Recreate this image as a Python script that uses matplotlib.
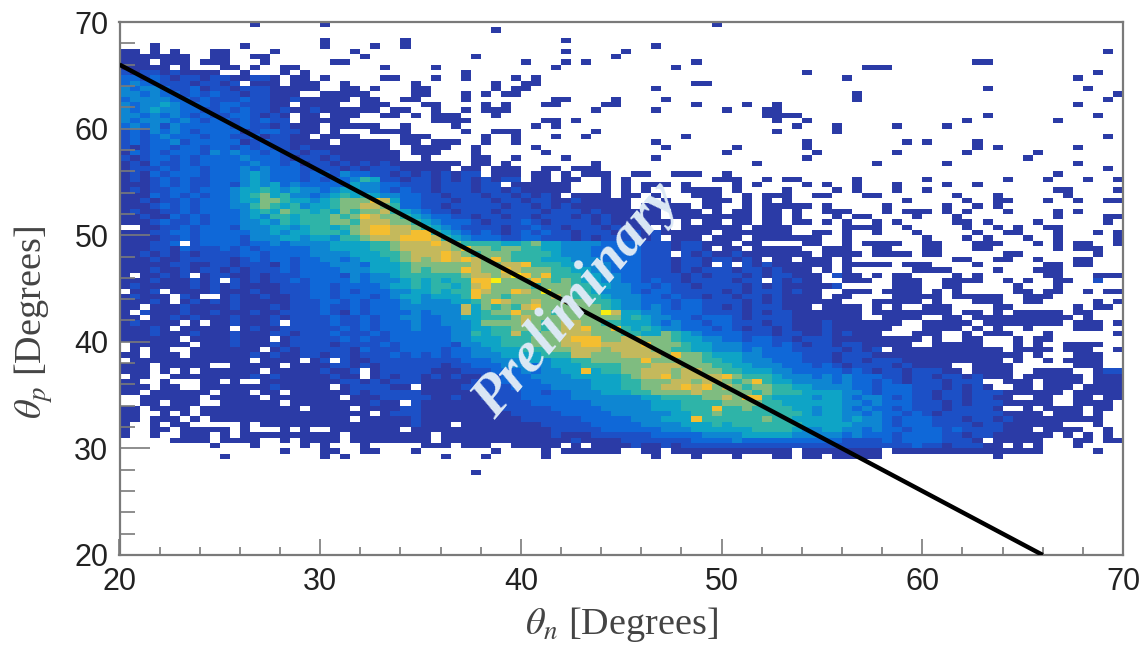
import matplotlib
matplotlib.use("Agg")
import matplotlib.pyplot as plt
import numpy as np
from matplotlib.colors import ListedColormap

# bin edges of the histogram (0.5 degree bins on both axes)
x_edges = [20 + 0.5 * i for i in range(101)]
y_edges = [70 - 0.5 * i for i in range(101)]

# colour level per bin, row 0 is the top row (theta_p = 70)
# . = empty, 1 = dark navy ... 9 = orange, a = bright yellow
rows = [
    ".......... ...1...... 1......... .......... .......... .........1 .......... .......... .......... ..........",
    ".......... .......... .......... .......1.. .......... .......... .......... .......... .......... ..........",
    ".......... .......... .......... .......... .......... .......... .......... .......... .......... ..........",
    ".......... .......... 1.......1. .......... ....1..... .......... .......... .......... .......... ..........",
    "...1...... ..1....... 1....1..1. .......... .......... ...1...... .......... .......... .......... ..........",
    "11.1.1...1 1....1.... ...1...... .......... ....1..... 1......... .......... .......... .......... ........1.",
    "1111111..1 1..11..... ....1..... .....1.... .........1 .......... .......... .......... .......... ..........",
    "111.111.11 1...1..... .11....... .......... 1...1.1... .......1.. .......... .......... .....11... ..........",
    "11111.1... 11.1..11.. ......1... .1........ ...1...... .....1.... .......... ....111... .......... ..........",
    "2122121111 ..1...1.1. .......... ....1..... .......... .......... ........1. .......... .......... .......1..",
    "3323212212 211221.11. 1.....11.. .1..1....1 .1........ .......... .......... ..1....... .......... .....1....",
    "3433222122 12.111.111 ..1......1 .......1.. 11........ .......11. .......... .......... .......... ..........",
    "4344322312 2122211111 ..11.1...1 1......1.1 1......... ...1...... .......... .......... ......1... ......1...",
    "4434332323 22122111.. 11111....1 1...1.1.11 .......... .......... .......... ...1...... .......... .........1",
    "3444433232 2232211211 111.11..11 ....1..... ...11....1 ....1..... .......... ...1...... .......... ........1.",
    "4344543332 3322211.11 11..111... 11....1.1. ..11....11 .......1.. ..1..1.... .......... .......... .....1....",
    "4345443322 3232212112 111111.11. .1..1.111. .......1.. ...1...... 1...11.... .......... .......... ..........",
    "4434343232 2332121.11 .111..11.1 .111...1.. .......... .......... ....1111.. .......... ......1... .......1..",
    "4344434323 3232322.11 111....... .1111..... ..11.1.... .......... .....1..1. .......... ....1..... ...1......",
    "3434243333 3232212111 .11111..1. ...1...... .1.1...... .......... .......1.. .1.....1.. ..1....... ..........",
    "2324343233 3312332211 .1...1111. ....1..111 .......1.. .......... .....1.... .1........ .......... ..........",
    "2323433323 322312211. 1111....11 1.....1..1 ...1..1... ......1... .......... .......... .......... ........1.",
    "2323342333 3312322111 1.11111.11 .111..1..1 .......... ...1...... ........1. ........1. 1....1.... ..........",
    "2123323323 3232322121 1111111..1 111..1.... .1........ ....1..... .1......1. .......... .....1.1.. .....1....",
    "1323233324 3433232212 21111111.1 11...1.... ..1....... .......... 1........1 .......1.. ....1..... .1........",
    "2123323233 3343332122 12111111.. 1....11..1 ....1..... ...1...... ........1. .......... .......... 1.........",
    "1213223233 3334332312 2121212111 1111.11.1. .......1.. .......... ...1...... .....1.... ..1....... .....1....",
    "1222323323 3343433322 2212122211 111.11.111 ..11.111.. .......... .......... .......... .......... ........1.",
    "1213233323 3345433323 3243322121 212122.111 .11.1.111. .11..111.. 1......... .......... .......... ...1......",
    "1212323223 3345433323 2334652212 2121212122 .11.11..1. 1........1 11..1.11.. ...1...... 1.......1. ..1...1..1",
    "1112323223 3245453433 3335443322 21222122.1 11111...1. 1.111.1... .1.1....1. 1..1...1.. ..1..1.... ..........",
    "1212233233 3455654544 3455443232 2122212212 11111...1. 1.1...1111 .1....1... .1.1...1.. 1......... ...11....1",
    "1113232323 3456756443 4565654433 2212221221 2121.1111. 11.1...111 ..1.111..1 1...11.... ...1...1.. ....1.....",
    "1121223233 3455776554 5677798533 2221222122 1221121111 1...1...11 1.1.1.1... ........1. ....1..11. ..1..1..11",
    "1112323233 3446765645 5677887633 2212222212 2121211111 1.11111.11 ..1.11111. 1.....1... ..1..1.1.. ..........",
    "1211223233 3345657665 6576778654 3221222122 2212221211 1111.111.1 .11.11.1.. 111...1.11 1.1.1...1. ...1.1....",
    "1121132323 3345466566 6767987765 4332212212 2122212121 1111.11111 111.11.1.. .1.11....1 ...1...... ...1....11",
    "1112322323 3344546566 6776888776 5433321222 3212222121 11111.1.11 .11.11.11. 1.1..1.1.. ...11.1... .1......1.",
    "..11223233 3244455456 6567899887 6543222212 2322122212 111.1.1111 11.1111... ..1111..1. ....1..1.1 ..11......",
    "1112233233 3334454556 6657899889 9654323212 3232212221 221211111. 1111111..1 1.1..1...1 .....1..11 ...1...1.1",
    "1111223233 3324445545 5466788899 9865433322 3322212122 2212.111.1 11.1111111 ..1....... 1...1.1... 1..1.....1",
    "111223.233 3323343444 4555566788 8987666655 6755444433 3322212211 1.11....11 ..1.1111.. 11...111.. .1.1.11..1",
    "1112213222 3232333334 4555566788 8887977677 6655444333 332221221. 11.11111.. 111..11... 11...11... ...1.111..",
    "1121212122 2233233334 4445556678 8898767776 6665444333 33222.2121 121111111. 1111.1111. 11......11 .......1..",
    "1112112222 2123233233 4434555678 7898987976 6655544433 3322212212 2121.11.11 1.1....... ...11..11. .1...11...",
    "1111122112 2122213233 3444355567 7777787788 9666554443 332221221. 2.21211111 1.11111.11 1....1.... ..11.11...",
    "1112112122 1212223233 3344455567 6777987798 7776655443 3322212122 212212111. 1.1......1 111....1.. .111......",
    "1.11212.12 2112122233 3324344566 666678878a 9796665544 3322221212 2212122111 .211.1.11. ...1.1.... ..11...111",
    "1112111212 .212122323 3334344456 5656699a77 7976765544 3323221222 2122.21211 ..111..111 ..1111..1. 1..11..2..",
    "1211111212 1211112223 3233334556 5665689777 7677766554 4332322122 2212121111 12.....111 ..11.....1 ...1......",
    ".112.11112 1112112223 3232333445 5656698779 87a7766544 4323322222 1212221211 ..111.1111 .1.1.....1 1.11..1.11",
    "12111.21.. 1211211223 3233323455 4555697767 7778766654 4433232212 2122121111 .11....111 11.11111.. 111.......",
    "11121.1212 1211111222 3323233345 4445567987 7877877665 4433323322 2212121111 11...11111 .1...111.. 11.....1.1",
    "11.1112111 1211121222 3223233344 4444857676 8977777765 4434323322 121222111. 1111.1.1.. 111....11. .....1.11.",
    "1.21112112 1112112222 3213233334 3444856779 77767777a8 5544333322 2212122111 1111.11111 111.11.1.1 1111.11...",
    "11.1121211 1211121222 2322323344 3344556667 8777777777 5654433233 3212222111 1111..1111 ..11.11111 11111.1...",
    "121111.1.1 121112.222 2322323334 3344457777 8767887766 5554343323 3222122111 21111111.. 11111.1111 1111.111.1",
    "11121.1111 1.12112222 2232323334 3334455667 7767889779 6565443332 3212212111 2111111... 1111.1.1.. 1....111..",
    "1112111211 1211122122 2322232333 3334465668 6677888777 6655765433 3322212211 212111...1 11..1.111. ..1......1",
    "111111.111 12111.1222 2232322333 3334455566 6777899977 8877765544 3323322122 2111111111 .1..11...1 .11.......",
    ".111111.11 1211121222 2122223233 3332445566 6777889988 8897776554 4433323212 212211111. .11111...1 .1..1111..",
    ".1.11..111 1111.12122 2221322233 3323344555 6667788878 8887766554 4434333222 221212.111 11111111.1 111.111..1",
    "11.111.111 1112121122 1221222323 2323344455 5566688777 8888797765 5544333322 2122211111 1111111111 .1...111..",
    ".111111111 111.1111.1 2.21122222 2222333444 5545566777 7797777766 5544433322 2122122211 11111111.1 ..1.1111..",
    "111.11111. .11111.111 1221212222 2212233344 4345556666 7778887776 6554443332 3212222121 111..1111. .....111..",
    "111.1.1.11 1111.11111 2112.12222 2111222333 4344559566 7788878877 6655544333 3323212212 2211.1111. .1111..122",
    ".11..11111 1112121111 1211.12122 1212112233 3444455555 6788978888 9766654443 4343332212 212212111. 111111.111",
    "11..1...11 .1..111111 1122121222 1111122233 3344444555 6677788788 7679655444 4343323212 221222..11 1.1111.111",
    "111.11..11 1111121111 1.1222211. 1111222223 3334444555 6677889897 8767766554 4443323332 2212121..1 1.111.1111",
    "11.111111. 111.11.111 1112122222 1111112222 3323344455 5667777877 7776766655 5544323332 2122122211 1111.11111",
    "..111111.1 1111.11111 11.1112222 2112112222 3333344444 4455666677 8799655554 5543443232 212212211. .11..11.11",
    "..11.111.. 111111.111 11111211.2 1111111222 2333333444 4445556666 7777665555 5544343332 2212122211 111..1111.",
    "11.1111.11 11111111.1 111.111122 1111111122 2223333344 4445556669 6676666554 5543433232 22122221.. 1.1111.11.",
    "11..1.1.11 1111111111 11111.1222 1111111112 2222333334 4444455667 6666666654 5544343323 2122222211 11.111.1..",
    "11.111.1.1 1111111111 111.111112 1111111111 2222223333 3444555966 6666766555 5545443233 3222122121 11111111..",
    "1..1.11... ..1.111111 1111111112 111.111111 1122222333 3344445556 5666666655 5554443233 3222212211 1111...1..",
    "1..11.1111 1.1...1.1. .1111111.1 1111111111 1112222233 3333444555 5556666544 5544343323 3323222211 1.1111..1.",
    "1..1..111. 1.11111111 11.1111111 1.11111111 1112111222 2223333344 4455555444 4434333233 3322122111 111.1.1.1.",
    ".....1111. 1111..1.11 11.1111111 1.11111111 1111121111 2222222333 3433333333 3322223233 332221.111 11...11.11",
    ".........1 ...1....1. 1...1..... 111.111..1 1111.1.111 1211212222 2222222222 2222222223 22122211.1 .1...1....",
    ".......... ......1... 11..11...1 .......1.. ..1.111111 ..11.11111 1111111.11 111111.111 1111111111 11.....1..",
    ".......... 1......... 1.1....... ..1...1... ..1....... ...1...1.. .1...11.11 .11111.... .......1.. ..........",
    ".......... .......... .......... .......... .......... .......... .......... .......... .......... ..........",
    ".......... .......... .......... .......... .......... .......... .......... .......... .......... ..........",
    ".......... .......... .......... .....1.... .......... .......... .......... .......... .......... ..........",
]

# the black line drawn over the histogram
line_x = [20, 66]
line_y = [66, 20]

level_colors = ["#2b3ba6", "#1c50c6", "#0f68d8", "#0e86d2", "#0ea4c6",
                "#2eb4a8", "#7fbc80", "#c4b95c", "#f4be30", "#f8ee10"]

# turn the text rows into a 100x100 array, anything missing stays empty
counts = np.full((100, 100), np.nan)
for r, row in enumerate(rows):
    row = row.replace(" ", "").ljust(100, ".")[:100]
    for c, ch in enumerate(row):
        if ch != ".":
            counts[r, c] = int(ch, 16)

plt.rcParams["mathtext.fontset"] = "stix"

fig = plt.figure(figsize=(11.46, 6.46), dpi=100)
ax = fig.add_axes([119.5 / 1146, 1 - 555 / 646, (1123 - 119.5) / 1146, (555 - 22) / 646])

cmap = ListedColormap(level_colors)
cmap.set_bad("white")
ax.pcolormesh(x_edges, y_edges, np.ma.masked_invalid(counts), cmap=cmap, vmin=0.5, vmax=10.5)

ax.plot(line_x, line_y, color="black", lw=3.2, solid_capstyle="butt", zorder=3)

ax.text(42.8, 43.9, "Preliminary", family="Liberation Serif", style="italic", weight="bold",
        fontsize=42, color="#dce9f5", rotation=50, ha="center", va="center", zorder=4)

ax.set_xlim(20, 70)
ax.set_ylim(20, 70)
ax.set_xticks(range(20, 71, 10))
ax.set_yticks(range(20, 71, 10))
ax.set_xticks(range(20, 71, 2), minor=True)
ax.set_yticks(range(20, 71, 2), minor=True)

gray = "#7a7a7a"
ax.tick_params(axis="x", which="major", direction="in", length=11.5, width=1.2, color=gray, pad=9)
ax.tick_params(axis="x", which="minor", direction="in", length=6, width=1.2, color=gray)
ax.tick_params(axis="y", which="major", direction="in", length=21.5, width=1.2, color=gray, pad=8)
ax.tick_params(axis="y", which="minor", direction="in", length=11, width=1.2, color=gray)
for spine in ax.spines.values():
    spine.set_color(gray)
    spine.set_linewidth(1.6)

for lab in ax.get_xticklabels() + ax.get_yticklabels():
    lab.set_family("Liberation Sans")
    lab.set_fontsize(22)
    lab.set_color("#222222")

ax.set_xlabel(r"$\theta_{n}$ [Degrees]", family="Liberation Serif", fontsize=27.5, color="#444444")
ax.set_ylabel(r"$\theta_{p}$ [Degrees]", family="Liberation Serif", fontsize=27.5, color="#444444")
ax.xaxis.set_label_coords(0.5, -0.093)
ax.yaxis.set_label_coords(-0.064, 0.437)

fig.savefig("out.png", dpi=100)
